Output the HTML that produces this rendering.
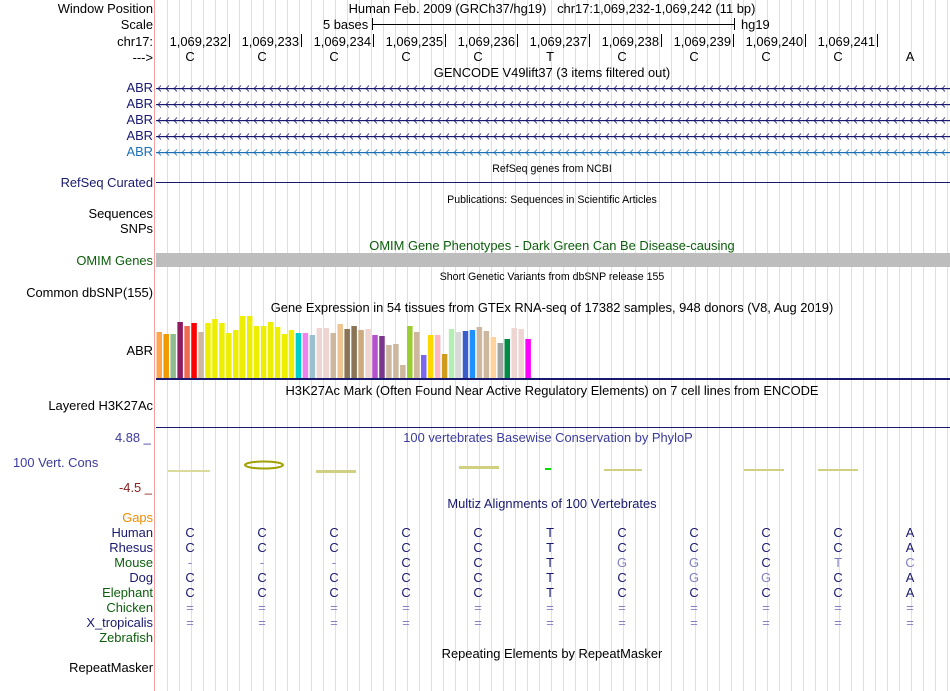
<!DOCTYPE html>
<html><head><meta charset="utf-8">
<style>
body{margin:0;width:950px;height:691px;background:#fff;position:relative;overflow:hidden;font-family:"Liberation Sans",sans-serif;font-size:12.9px;}
.a{position:absolute;white-space:nowrap;line-height:14px;}
.l{right:797px;text-align:right;}
.c{text-align:center;transform:translateX(-50%);}
.s{font-size:10.6px;}
#grid{position:absolute;left:0;top:0;width:950px;height:691px;}
</style></head><body>
<svg id="grid"></svg>
<div class="a" style="left:154px;top:0;width:1px;height:691px;background:#f4a0a0"></div>

<div class="a l" style="top:2px">Window Position</div>
<div class="a c" style="left:552px;top:2px">Human Feb. 2009 (GRCh37/hg19)&nbsp;&nbsp; chr17:1,069,232-1,069,242 (11 bp)</div>
<div class="a l" style="top:18px">Scale</div>
<div class="a" style="left:323px;top:18px">5 bases</div>
<div class="a" style="left:372px;top:18px;width:1px;height:12px;background:#000"></div>
<div class="a" style="left:372px;top:24px;width:362px;height:1px;background:#000"></div>
<div class="a" style="left:734px;top:18px;width:1px;height:12px;background:#000"></div>
<div class="a" style="left:741px;top:18px">hg19</div>
<div class="a l" style="top:35px">chr17:</div>
<div class="a l" style="top:51px">---&gt;</div>
<div id="ruler"></div>

<div class="a c" style="left:552px;top:66px">GENCODE V49lift37 (3 items filtered out)</div>
<div id="genes"></div>

<div class="a c s" style="left:552px;top:162px">RefSeq genes from NCBI</div>
<div class="a l" style="top:176px;color:#191970">RefSeq Curated</div>
<div class="a" style="left:156px;top:182px;width:794px;height:1px;background:#191970"></div>

<div class="a c s" style="left:552px;top:193px">Publications: Sequences in Scientific Articles</div>
<div class="a l" style="top:207px">Sequences</div>
<div class="a l" style="top:222px">SNPs</div>
<div class="a c" style="left:552px;top:239px;color:#0b5e0b">OMIM Gene Phenotypes - Dark Green Can Be Disease-causing</div>
<div class="a l" style="top:254px;color:#0b5e0b">OMIM Genes</div>
<div class="a" style="left:156px;top:253px;width:794px;height:14px;background:#bdbdbd"></div>
<div class="a c s" style="left:552px;top:270px">Short Genetic Variants from dbSNP release 155</div>
<div class="a l" style="top:286px">Common dbSNP(155)</div>
<div class="a c" style="left:552px;top:301px">Gene Expression in 54 tissues from GTEx RNA-seq of 17382 samples, 948 donors (V8, Aug 2019)</div>
<div class="a l" style="top:344px">ABR</div>
<svg class="a" id="gtex" style="left:0;top:0" width="950" height="391"></svg>
<div class="a" style="left:156px;top:378px;width:794px;height:2px;background:#191970"></div>

<div class="a c" style="left:552px;top:384px">H3K27Ac Mark (Often Found Near Active Regulatory Elements) on 7 cell lines from ENCODE</div>
<div class="a l" style="top:399px">Layered H3K27Ac</div>
<div class="a" style="left:156px;top:427px;width:794px;height:1px;background:#191970"></div>

<div class="a" style="left:115px;top:431px;color:#3a3aa0">4.88 _</div>
<div class="a c" style="left:548px;top:431px;color:#3a3aa0">100 vertebrates Basewise Conservation by PhyloP</div>
<div class="a" style="left:13px;top:456px;color:#3a3aa0">100 Vert. Cons</div>
<div class="a" style="left:119px;top:481px;color:#8b2020">-4.5 _</div>
<svg class="a" style="left:0;top:0" width="950" height="480">
<rect x="168" y="470" width="42" height="2" fill="#dada9a"/>
<ellipse cx="264" cy="465" rx="19" ry="3.5" fill="none" stroke="#a0a000" stroke-width="2"/>
<rect x="316" y="470" width="40" height="3" fill="#d0d080"/>
<rect x="459" y="466" width="40" height="3" fill="#d0d080"/>
<rect x="545" y="468" width="6" height="2" fill="#00dd00"/>
<rect x="604" y="469" width="38" height="2" fill="#d0d080"/>
<rect x="744" y="469" width="40" height="2" fill="#d0d080"/>
<rect x="818" y="469" width="40" height="2" fill="#d0d080"/>
</svg>
<div class="a c" style="left:552px;top:497px;color:#191970">Multiz Alignments of 100 Vertebrates</div>
<div class="a l" style="top:511px;color:#f08c00">Gaps</div>
<div id="aln"></div>
<div class="a c" style="left:552px;top:647px">Repeating Elements by RepeatMasker</div>
<div class="a l" style="top:661px">RepeatMasker</div>

<script>
const bases=["C","C","C","C","C","T","C","C","C","C","A"];
const positions=["1,069,232","1,069,233","1,069,234","1,069,235","1,069,236","1,069,237","1,069,238","1,069,239","1,069,240","1,069,241"];
const gtexValues=[46,44,44,56,52,55,46,55,59,55,45,48,62,62,52,52,56,51,44,48,45,45,43,50,50,45,54,49,52,48,49,43,42,33,34,13,52,46,23,43,43,24,49,46,47,48,51,47,41,35,39,50,49,39];
const gtexColors=["#ffa54f","#ee9a00","#8fbc8f","#8b1c62","#ee6a50","#ff0000","#cdb79e","#eeee00","#eeee00","#eeee00","#eeee00","#eeee00","#eeee00","#eeee00","#eeee00","#eeee00","#eeee00","#eeee00","#eeee00","#eeee00","#00cdcd","#ee82ee","#9ac0cd","#eed5d2","#eed5d2","#cdb79e","#eec591","#8b7355","#8b7355","#cdaa7d","#eed5d2","#b452cd","#7a378b","#cdb79e","#cdb79e","#cdb79e","#9acd32","#cdb79e","#7b68ee","#ffd700","#ffb6c1","#cd9b1d","#b4eeb4","#d9d9d9","#3a5fcd","#1e90ff","#cdb79e","#cdb79e","#ffd39b","#a6a6a6","#008b45","#eed5d2","#eed5d2","#ff00ff"];
const species=["Human","Rhesus","Mouse","Dog","Elephant","Chicken","X_tropicalis","Zebrafish"];
const speciesColors=["#191970","#191970","#0b5e0b","#191970","#0b5e0b","#0b5e0b","#191970","#0b5e0b"];
const alignRows=["CCCCCTCCCCA","CCCCCTCCCCA","---CCTGGCTC","CCCCCTCGGCA","CCCCCTCCCCA","===========","===========","           "];
const NS="http://www.w3.org/2000/svg";
const baseX=i=>190+72*i;
const g=document.getElementById('grid');
for(let x=167;x<950;x+=12){const l=document.createElementNS(NS,'rect');l.setAttribute('x',x);l.setAttribute('y',0);l.setAttribute('width',1);l.setAttribute('height',691);l.setAttribute('fill','#dcdcf6');


g.appendChild(l);}
const r=document.getElementById('ruler');
positions.forEach((p,i)=>{const d=document.createElement('div');d.className='a';d.style.right=(950-(227+72*i))+'px';d.style.top='35px';d.textContent=p;


r.appendChild(d);const t=document.createElement('div');t.className='a';t.style.left=(229+72*i)+'px';t.style.top='34px';t.style.width='1px';t.style.height='13px';t.style.background='#000';r.appendChild(t);});
bases.forEach((b,i)=>{const d=document.createElement('div');d.className='a c';d.style.left=baseX(i)+'px';d.style.top='50px';d.textContent=b;


r.appendChild(d);});
const gn=document.getElementById('genes');
for(let k=0;k<5;k++){const y=88+16*k;const col=k<4?'#191970':'#1a6fb5';
const lb=document.createElement('div');lb.className='a l';lb.style.top=(y-7)+'px';lb.style.color=col;lb.textContent='ABR';


gn.appendChild(lb);
const s=document.createElementNS(NS,'svg');s.setAttribute('class','a');s.style.left='156px';s.style.top=(y-4)+'px';s.setAttribute('width',794);s.setAttribute('height',9);


let h='<rect x="0" y="4" width="794" height="1.2" fill="'+col+'"/>';
for(let x=2;x<794;x+=8)h+='<path d="M'+(x+3)+' 1.5 L'+x+' 4.6 L'+(x+3)+' 7.5" fill="none" stroke="'+col+'" stroke-width="0.8"/>';
s.innerHTML=h;gn.appendChild(s);}
const gs=document.getElementById('gtex');
const barX=i=>156+i*6.96, barH=v=>v, base=378;
gtexValues.forEach((v,i)=>{const b=document.createElementNS(NS,'rect');b.setAttribute('x',barX(i)+0.5);b.setAttribute('y',base-barH(v));b.setAttribute('width',5.5);b.setAttribute('height',barH(v));b.setAttribute('fill',gtexColors[i]);


gs.appendChild(b);});
const al=document.getElementById('aln');
species.forEach((sp,j)=>{const y=526+15*j;
const lb=document.createElement('div');lb.className='a l';lb.style.top=y+'px';lb.style.color=speciesColors[j];lb.textContent=sp;


al.appendChild(lb);
[...alignRows[j]].forEach((ch,i)=>{if(ch===' ')return;const d=document.createElement('div');d.className='a c';d.style.left=baseX(i)+'px';d.style.top=y+'px';
const diff=ch!=='='&&ch!=='-'&&ch!==alignRows[0][i];
d.style.color=(ch==='='||ch==='-'||diff)?'#8080c0':'#191970';d.textContent=ch;


al.appendChild(d);});});
</script>
</body></html>
